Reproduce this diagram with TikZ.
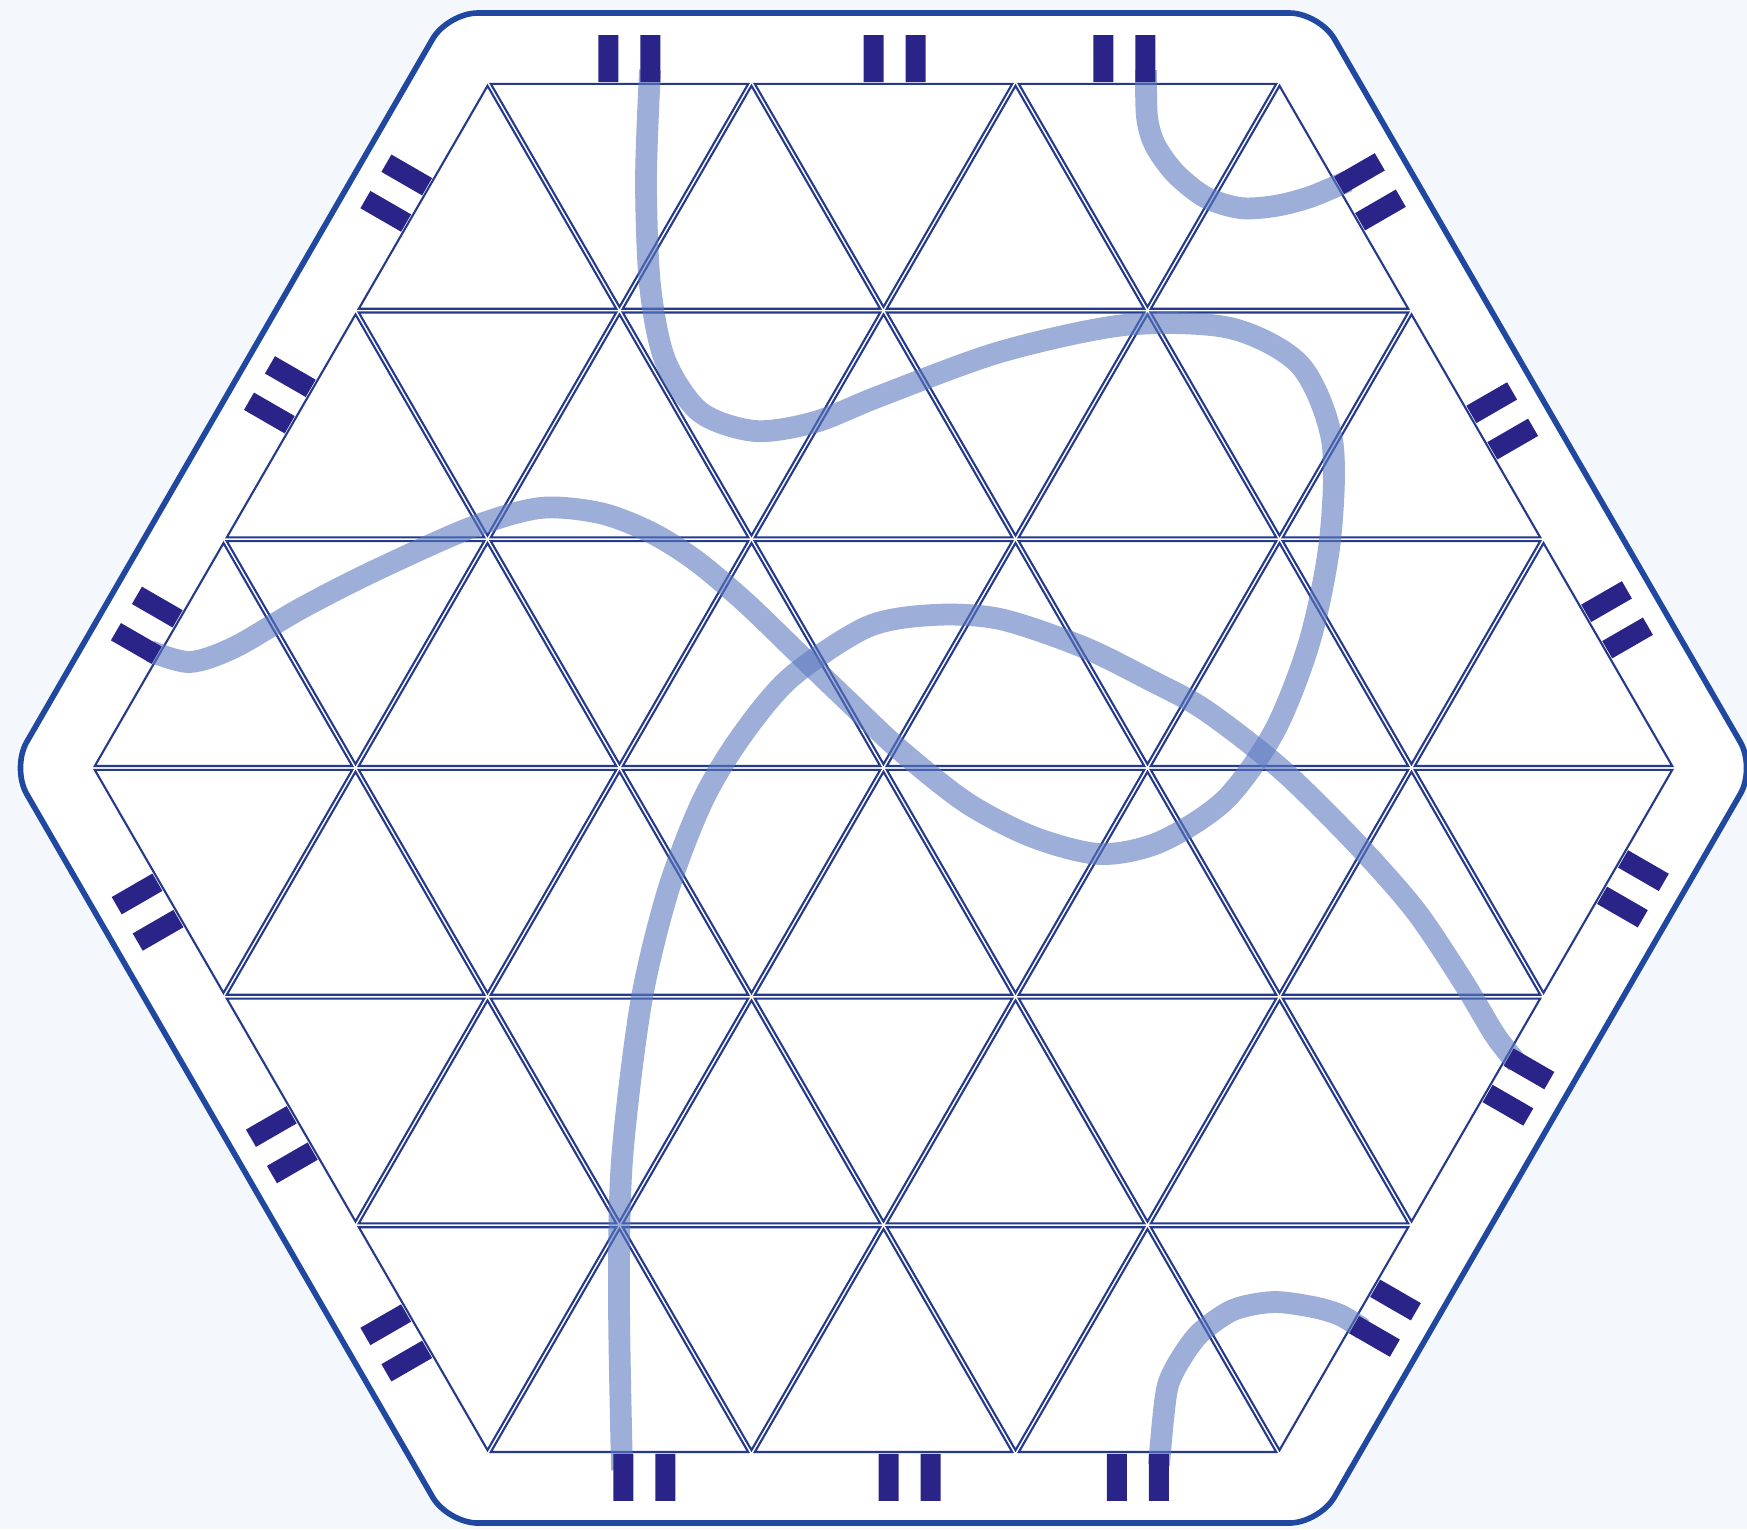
\documentclass[tikz,border=0pt]{standalone}
\usetikzlibrary{calc}
\definecolor{paper}{RGB}{244,248,252}
\definecolor{rimblue}{RGB}{32,72,160}
\definecolor{gridblue}{RGB}{38,58,140}
\definecolor{pegblue}{RGB}{42,36,136}
\definecolor{trailblue}{RGB}{92,122,192}
\begin{document}
\begin{tikzpicture}[
    rim/.style = {draw = rimblue, line width = 1.6pt, fill = white, rounded corners = 0.3cm},
    tri/.style = {draw = gridblue, line width = 0.6pt},
    trail/.style = {draw = trailblue, draw opacity = 0.6, line width = 6.2pt, line join = round},
    peg/.style = {fill = pegblue}
]
    \fill[paper] (0, 0) rectangle (17.47, -15.29);
    \useasboundingbox (0, 0) rectangle (17.47, -15.29);
    \coordinate (C) at (8.835, -7.68);
    \foreach \i in {0, ..., 5}
        \coordinate (V\i) at ($(C) + (60*\i:7.92)$);
    % frame
    \draw[rim, shift = {(C)}] (90:7.55) -- (120:8.718) -- (180:8.718) -- (240:8.718)
        -- (300:8.718) -- (0:8.718) -- (60:8.718) -- cycle;
    % board: rows of up and down triangles
    \foreach \yt/\xt/\wt/\xb/\wb in {-0.82/4.875/3/3.555/4, -3.1063/3.555/4/2.235/5,
                                    -5.3926/2.235/5/0.915/6, -7.68/0.915/6/2.235/5,
                                    -9.9663/2.235/5/3.555/4, -12.2526/3.555/4/4.875/3}{
        \foreach \k in {1, ..., \wb}
            \draw[tri, shift = {({\xb + (\k - 0.5)*2.64}, {\yt - 1.5242})}, scale = 0.975]
                (-1.32, -0.7621) -- (1.32, -0.7621) -- (0, 1.5242) -- cycle;
        \foreach \k in {1, ..., \wt}
            \draw[tri, shift = {({\xt + (\k - 0.5)*2.64}, {\yt - 0.7621})}, scale = 0.975]
                (-1.32, 0.7621) -- (1.32, 0.7621) -- (0, -1.5242) -- cycle;
    }
    % tracks
    \draw[trail] plot[smooth, tension = 0.5] coordinates {
        (6.50, -0.70) (6.46, -1.80) (6.50, -2.85) (6.65, -3.60) (7.00, -4.12) (7.55, -4.31)
        (8.15, -4.22) (8.80, -3.96) (10.00, -3.52) (11.25, -3.25) (12.30, -3.28) (13.00, -3.65)
        (13.32, -4.40) (13.30, -5.40) (13.10, -6.40) (12.75, -7.30) (12.25, -8.00) (11.60, -8.42)
        (11.00, -8.54) (10.33, -8.37) (9.67, -8.03) (9.00, -7.50) (8.50, -7.03) (8.00, -6.55)
        (7.45, -6.02) (6.95, -5.60) (6.50, -5.32) (6.00, -5.13) (5.40, -5.08) (4.70, -5.28)
        (3.70, -5.73) (3.00, -6.09) (2.35, -6.47) (1.90, -6.62) (1.50, -6.51)};
    \draw[trail] plot[smooth, tension = 0.5] coordinates {
        (6.22, -14.70) (6.19, -13.00) (6.22, -11.60) (6.41, -10.03) (6.68, -8.91) (7.02, -8.02)
        (7.40, -7.38) (7.90, -6.78) (8.67, -6.27) (9.33, -6.15) (10.00, -6.19) (10.83, -6.47)
        (11.50, -6.80) (12.05, -7.10) (12.81, -7.69) (13.55, -8.42) (14.15, -9.10) (14.62, -9.80)
        (14.95, -10.35) (15.17, -10.63)};
    \draw[trail] plot[smooth, tension = 0.5] coordinates {
        (11.46, -0.70) (11.47, -1.17) (11.55, -1.45) (11.75, -1.73) (12.05, -1.97) (12.40, -2.08)
        (12.75, -2.06) (13.10, -1.97) (13.48, -1.81)};
    \draw[trail] plot[smooth, tension = 0.5] coordinates {
        (11.59, -14.65) (11.63, -14.20) (11.68, -13.85) (11.80, -13.60) (12.00, -13.33)
        (12.33, -13.10) (12.73, -13.02) (13.13, -13.07) (13.40, -13.15) (13.63, -13.29)};
    % pegs on the rim
    \foreach \a/\b/\f/\ang in {V2/V1/0.179/90, V2/V1/0.514/90, V2/V1/0.804/90,
                               V2/V3/0.179/150, V2/V3/0.473/150, V2/V3/0.809/150,
                               V1/V0/0.177/30, V1/V0/0.511/30, V1/V0/0.801/30,
                               V0/V5/0.159/-30, V0/V5/0.448/-30, V0/V5/0.785/-30,
                               V4/V5/0.198/-90, V4/V5/0.533/-90, V4/V5/0.821/-90,
                               V3/V4/0.193/210, V3/V4/0.532/210, V3/V4/0.821/210}
        \fill[peg, shift = {($(\a)!\f!(\b)$)}, rotate = \ang]
            (0, -0.31) -- (0.47, -0.31) -- (0.47, -0.11) -- (0, -0.11) -- cycle
            (0, 0.11) -- (0.47, 0.11) -- (0.47, 0.31) -- (0, 0.31) -- cycle;
\end{tikzpicture}
\end{document}
